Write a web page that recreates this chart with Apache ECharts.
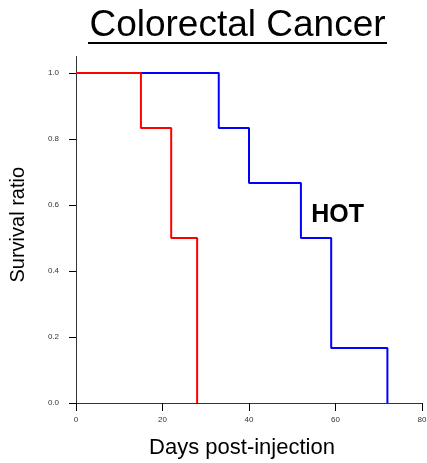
<!DOCTYPE html>
<html>
<head>
<meta charset="utf-8">
<script src="https://cdn.jsdelivr.net/npm/echarts@6/dist/echarts.min.js"></script>
<style>
  html, body { margin: 0; padding: 0; background: #fff; }
  #chart { width: 427px; height: 463px; }
</style>
</head>
<body>
<div id="chart"></div>
<script>
// Kaplan-Meier style survival curves
const redDays = [0, 15, 22, 28];
const redSurvival = [1, 0.833, 0.5, 0];
const blueDays = [0, 33, 40, 52, 59, 72];
const blueSurvival = [1, 0.833, 0.667, 0.5, 0.167, 0];
const xTicks = [0, 20, 40, 60, 80];
const yTicks = [0, 0.2, 0.4, 0.6, 0.8, 1.0];
const hotLabel = ['HOT', 60.5, 0.57];

const pairs = (xs, ys) => xs.map((x, i) => [x, ys[i]]);

const FONT = 'Liberation Sans, Arial, Helvetica, sans-serif';
const axisColor = '#333';

const chart = echarts.init(document.getElementById('chart'), null, { renderer: 'canvas' });

const option = {
  animation: false,
  backgroundColor: '#fff',
  grid: { left: 70, right: 5, top: 56.5, bottom: 60, containLabel: false, outerBoundsMode: 'none' },
  xAxis: {
    type: 'value',
    min: -1.4,
    max: 80,
    name: 'Days post-injection',
    nameLocation: 'middle',
    nameGap: 34,
    nameTextStyle: { fontFamily: FONT, fontSize: 22, color: '#000', padding: [0, 0, 0, -8] },
    axisLine: { show: true, onZero: false, lineStyle: { color: axisColor, width: 1 } },
    axisTick: { show: true, length: 8, customValues: xTicks, lineStyle: { color: '#000' } },
    axisLabel: { customValues: xTicks, margin: 13, fontFamily: FONT, fontSize: 8, color: axisColor },
    splitLine: { show: false }
  },
  yAxis: {
    type: 'value',
    min: 0,
    max: 1.05,
    name: 'Survival ratio',
    nameLocation: 'middle',
    nameGap: 42,
    nameTextStyle: { fontFamily: FONT, fontSize: 20, color: '#000', padding: [0, 0, 0, 10] },
    axisLine: { show: true, onZero: true, lineStyle: { color: axisColor, width: 1 } },
    axisTick: { show: true, length: 7, customValues: yTicks, lineStyle: { color: '#000' } },
    axisLabel: {
      customValues: yTicks, margin: 11, fontFamily: FONT, fontSize: 8, color: axisColor,
      formatter: v => v.toFixed(1)
    },
    splitLine: { show: false }
  },
  graphic: [
    {
      type: 'text',
      x: 237.5, y: 26,
      style: {
        text: 'Colorectal Cancer',
        font: '37px ' + FONT,
        fill: '#000',
        align: 'center',
        verticalAlign: 'middle'
      }
    },
    {
      type: 'rect',
      shape: { x: 88, y: 42, width: 299, height: 2 },
      style: { fill: '#000' }
    }
  ],
  series: [
    {
      name: 'HOT',
      type: 'line',
      step: 'end',
      data: pairs(blueDays, blueSurvival),
      showSymbol: false,
      lineStyle: { color: '#0000ff', width: 2 },
      itemStyle: { color: '#0000ff' },
      markPoint: {
        symbol: 'circle',
        symbolSize: 1,
        itemStyle: { color: 'rgba(0,0,0,0)' },
        label: {
          show: true,
          position: 'inside',
          formatter: hotLabel[0],
          fontFamily: FONT,
          fontSize: 25,
          fontWeight: 'bold',
          color: '#000'
        },
        data: [{ coord: [hotLabel[1], hotLabel[2]] }]
      }
    },
    {
      name: 'Control',
      type: 'line',
      step: 'end',
      data: pairs(redDays, redSurvival),
      showSymbol: false,
      lineStyle: { color: '#ff0000', width: 2 },
      itemStyle: { color: '#ff0000' }
    }
  ]
};

chart.setOption(option);
</script>
</body>
</html>
